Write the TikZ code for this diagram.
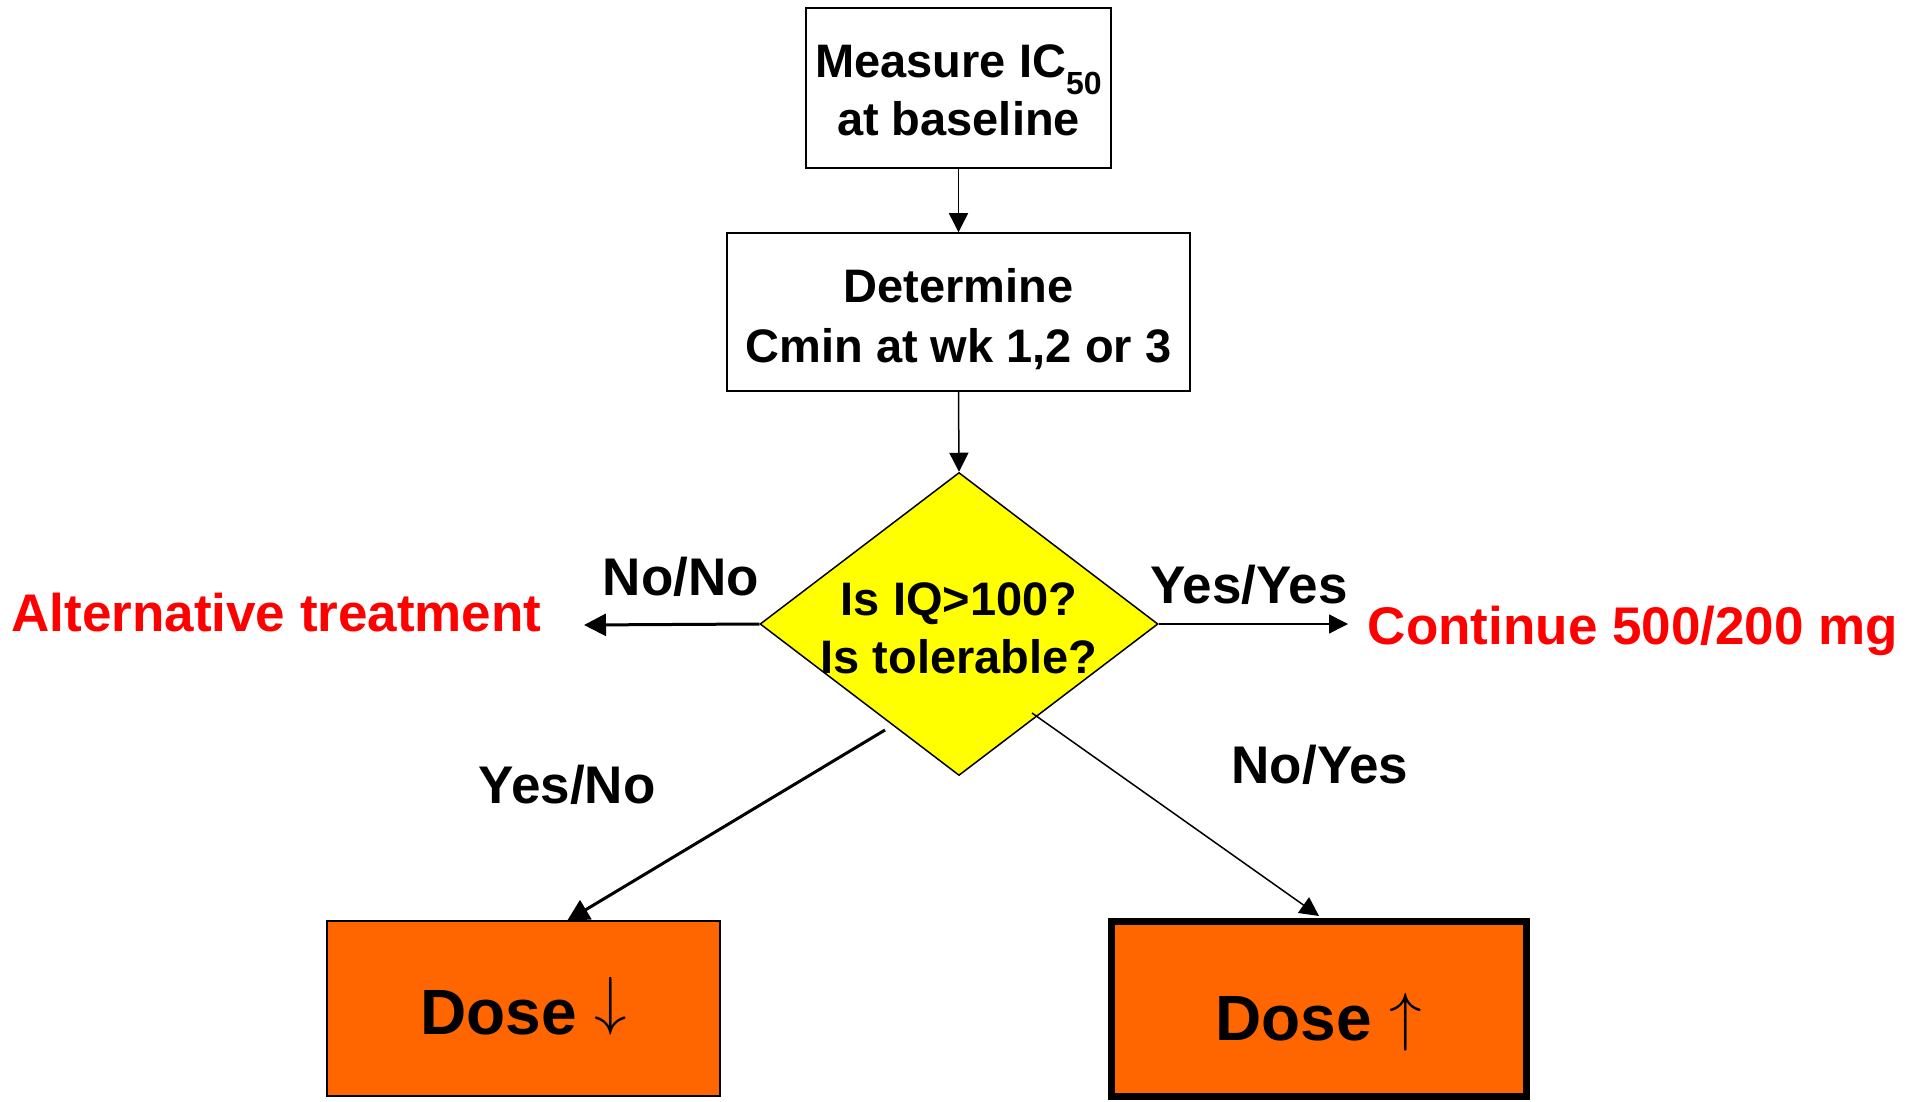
\documentclass[tikz,border=0pt]{standalone}
\usepackage{fontspec}
\setmainfont{Liberation Sans}
\usetikzlibrary{shapes.geometric,arrows.meta}
\definecolor{dosefill}{HTML}{FF6600}
\definecolor{diafill}{HTML}{FFFF00}
\definecolor{redtxt}{HTML}{FF0000}
\newcommand\bigarrowglyph[1]{\scalebox{6.5}{\fontsize{10}{12}\selectfont$#1$}}
\tikzset{
  boxtext/.style={font=\fontsize{47}{60}\selectfont\bfseries, align=center},
  procbox/.style={draw=black, line width=1.5pt, fill=white, rectangle, inner sep=0pt, boxtext},
  dosebox/.style={draw=black, fill=dosefill, rectangle, inner sep=0pt},
  dosetext/.style={inner sep=0pt, anchor=base, font=\fontsize{64}{70}\selectfont\bfseries},
  lbl/.style={font=\fontsize{53}{60}\selectfont\bfseries, anchor=base, inner sep=0pt},
  redlbl/.style={lbl, text=redtxt},
  thinarrow/.style={line width=1.5pt, -{Triangle[length=19pt,width=19pt]}},
  thickarrow/.style={line width=3pt, -{Triangle[length=22pt,width=22pt]}},
}
\begin{document}
\begin{tikzpicture}[x=1pt,y=-1pt]
\useasboundingbox (0,0) rectangle (1920,1102);
% nodes
\node[procbox, minimum width=305pt, minimum height=160pt] (top) at (958.5,88) {};
\node[boxtext, inner sep=0pt] (toptext) at (958.5,90)
  {Measure IC\raisebox{-17pt}{\fontsize{32}{32}\selectfont 50}\\[-2pt] at baseline};
\node[procbox, minimum width=463pt, minimum height=158pt] (det) at (958.5,312) {};
\node[boxtext, inner sep=0pt] (dettext) at (958.5,319)
  {Determine\\ Cmin at wk 1,2 or 3};
\node[diamond, draw=black, line width=1.5pt, fill=diafill, minimum width=398pt, minimum height=303pt, inner sep=0pt] (dia) at (959,624) {};
\node[boxtext, inner sep=0pt, font=\fontsize{47}{58}\selectfont\bfseries] (diatext) at (959,628) {Is IQ>100?\\ Is tolerable?};
\node[dosebox, line width=2pt, minimum width=393pt, minimum height=175pt] (down) at (523.5,1008.5) {};
\node[dosetext] (downtext) at (523.5,1034)
  {Dose \raisebox{12pt}{\bigarrowglyph{\downarrow}}};
\node[dosebox, line width=7pt, minimum width=415pt, minimum height=175pt] (up) at (1318.5,1008.5) {};
\node[dosetext] (uptext) at (1318.5,1040)
  {Dose \raisebox{2pt}{\bigarrowglyph{\uparrow}}};
% labels
\node[redlbl] (alt) at (276.5,631) {Alternative treatment};
\node[redlbl] (cont) at (1633,644) {Continue 500/200 mg};
\node[lbl] (nono) at (681,595) {No/No};
\node[lbl] (yesyes) at (1249,603) {Yes/Yes};
\node[lbl] (yesno) at (567,803) {Yes/No};
\node[lbl] (noyes) at (1320,783) {No/Yes};
% coordinates for free connector ends
\coordinate (altend) at (584,625);
\coordinate (contend) at (1348,624);
\coordinate (dls) at (885,730);
\coordinate (dle) at (567,921);
\coordinate (drs) at (1032,713);
\coordinate (dre) at (1319,916);
% connectors
\draw[thinarrow] (top.south) -- (det.north);
\draw[thinarrow] (det.south) -- (dia.north);
\draw[thickarrow] (dia.west) -- (altend);
\draw[thinarrow] (dia.east) -- (contend);
\draw[thickarrow] (dls) -- (dle);
\draw[thinarrow] (drs) -- (dre);
\end{tikzpicture}
\end{document}
